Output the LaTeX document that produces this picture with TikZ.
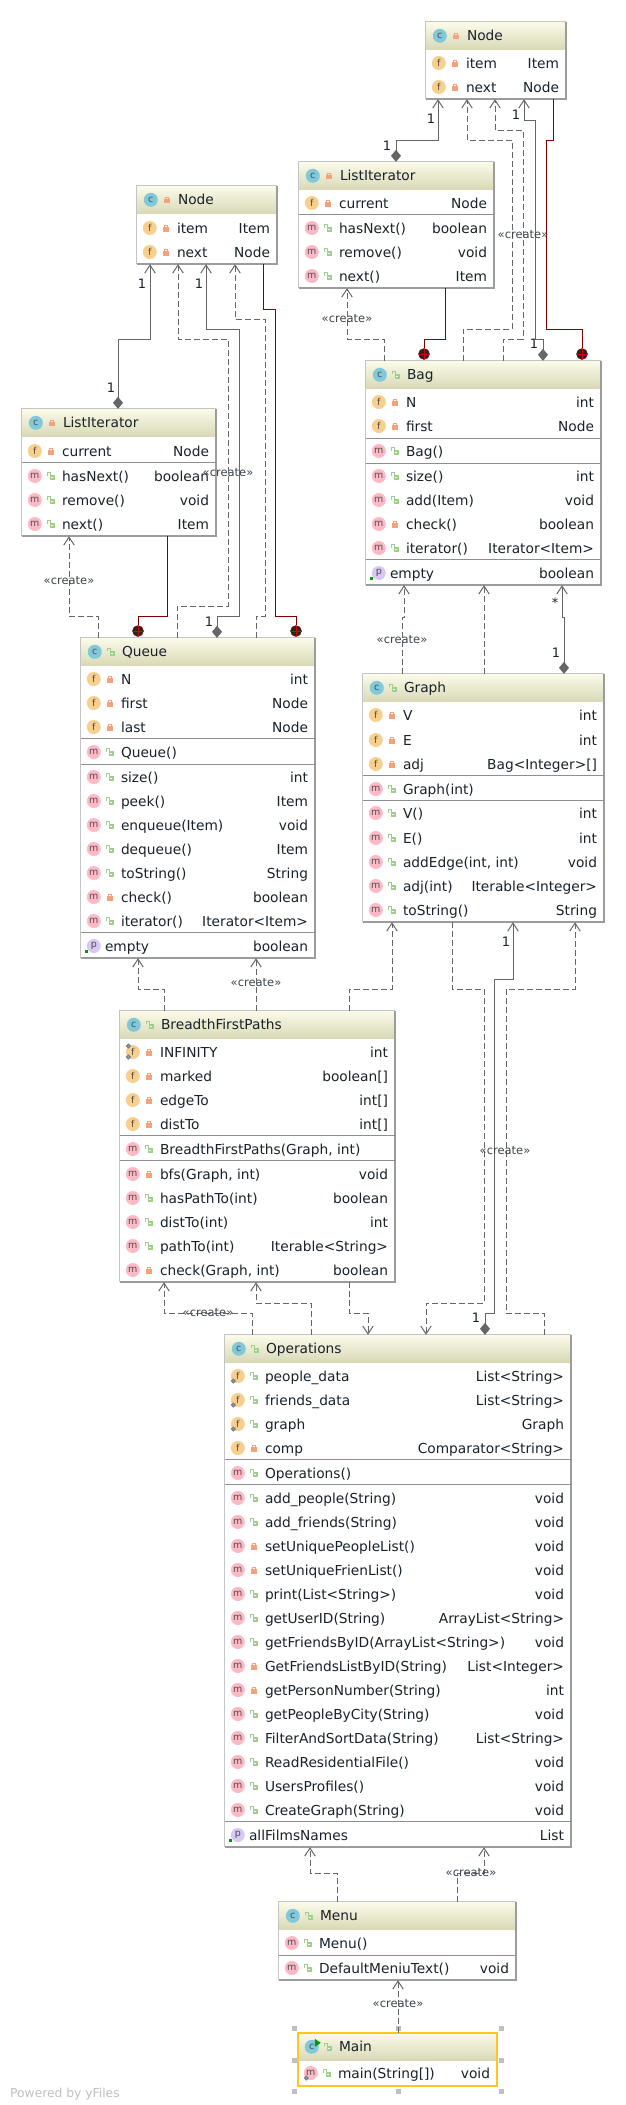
\documentclass[tikz,border=0pt]{standalone}
\usepackage{xcolor}
\usepackage{fontspec}
\setmainfont{DejaVu Sans}
\usetikzlibrary{arrows.meta,calc}

\definecolor{headtop}{HTML}{FBFBEA}
\definecolor{headbot}{HTML}{D8D8B6}
\definecolor{boxline}{HTML}{C4C4C4}
\definecolor{boxshade}{HTML}{9C9C9C}
\definecolor{rowline}{HTML}{8E8E8E}
\definecolor{inktext}{HTML}{18222A}
\definecolor{linegray}{HTML}{666666}
\definecolor{ownerred}{HTML}{800000}
\definecolor{fcol}{HTML}{F9CF8E}
\definecolor{mcol}{HTML}{FFB8C6}
\definecolor{ccol}{HTML}{80C8DA}
\definecolor{pcol}{HTML}{D8C8F6}
\definecolor{lockred}{HTML}{F4A17C}
\definecolor{lockgreen}{HTML}{9ED08C}
\definecolor{gearcol}{HTML}{74828F}
\definecolor{selectline}{HTML}{FFC71E}

\tikzset{
  classbody/.style={rectangle, fill=white, inner sep=0pt},
  rowtext/.style={inner sep=0pt, text=inktext, font=\fontsize{13.75}{16}\selectfont},
  iconbadge/.style={circle, inner sep=0pt, minimum size=14pt, text=black!70, font=\fontsize{9.5}{10}\selectfont},
  createlabel/.style={inner sep=0pt, text=inktext!85, font=\fontsize{11.5}{13}\selectfont},
  multlabel/.style={inner sep=0pt, text=inktext, font=\fontsize{13}{15}\selectfont},
  dashline/.style={draw=linegray, line width=1pt, dash pattern=on 6pt off 3pt, -{Straight Barb[length=8pt,width=10.5pt]}},
  assocline/.style={draw=linegray, line width=1pt, {Diamond[length=12pt,width=10pt]}-{Straight Barb[length=8pt,width=10.5pt]}},
  ownerline/.style={draw=ownerred, line width=1pt},
  ownerdot/.style={circle, draw=ownerred, fill=black!85, inner sep=0pt, minimum size=11pt,
    path picture={\draw[red!85!black, line width=1pt] (path picture bounding box.north) -- (path picture bounding box.south)
      (path picture bounding box.west) -- (path picture bounding box.east);}},
  handlemark/.style={rectangle, fill=black!25, inner sep=0pt, minimum size=5pt},
  lockshut/.pic={
    \fill[lockred] (-3,-0.6) rectangle (3,3.6);
    \draw[lockred, line width=1.1pt] (-1.7,0) -- (-1.7,-2.6) -- (1.7,-2.6) -- (1.7,0);
  },
  lockopen/.pic={
    \draw[lockgreen, line width=1.1pt] (-3.5,-0.5) -- (-3.5,-3.6) -- (-0.6,-3.6) -- (-0.6,0);
    \fill[lockgreen] (-1.2,-0.6) rectangle (4,3.8);
    \fill[white] (0.2,0.8) rectangle (2.6,2.2);
  },
}

% box with its title band: name, left, top, right, bottom
\newcommand{\classbox}[5]{
  \node (#1) [classbody, minimum width=#4pt-#2pt, minimum height=#5pt-#3pt] at ({(#2+#4)/2},{(#3+#5)/2}) {};
  \fill[top color=headtop, bottom color=headbot] (#1.north west) rectangle ($(#1.north east)+(0,28)$);
  \draw[boxline, line width=1pt] (#1.south west) -- (#1.north west) -- (#1.north east);
  \draw[boxshade, line width=1.5pt] (#1.north east) -- (#1.south east) -- (#1.south west);
}
% title: box, text, lock
\newcommand{\classhead}[3]{
  \node (#1icon) [iconbadge, fill=ccol] at ($(#1.north west)+(14,14)$) {c};
  \pic at ($(#1.north west)+(30,14)$) {#3};
  \node (#1title) [rowtext, anchor=base west] at ($(#1.north west)+(41,19)$) {#2};
}
% row: box, y, letter, lock, text, type
\newcommand{\member}[6]{
  \node (#1icon#2) [iconbadge, fill=#3col] at ($(#1.west |- 0,#2)+(13,0)$) {#3};
  \pic at ($(#1.west |- 0,#2)+(29,0)$) {#4};
  \node (#1name#2) [rowtext, anchor=base west] at ($(#1.west |- 0,#2+5)+(40,0)$) {#5};
  \node (#1type#2) [rowtext, anchor=base east] at ($(#1.east |- 0,#2+5)+(-7,0)$) {#6};
}
% property row: box, y, text, type
\newcommand{\propitem}[4]{
  \node (#1icon#2) [iconbadge, fill=pcol] at ($(#1.west |- 0,#2)+(13,0)$) {p};
  \fill[green!60!black] ($(#1.west |- 0,#2)+(4,4)$) rectangle ($(#1.west |- 0,#2)+(7,7)$);
  \node (#1name#2) [rowtext, anchor=base west] at ($(#1.west |- 0,#2+5)+(24,0)$) {#3};
  \node (#1type#2) [rowtext, anchor=base east] at ($(#1.east |- 0,#2+5)+(-7,0)$) {#4};
}
\newcommand{\rowrule}[2]{
  \draw[rowline, line width=1pt] (#1.west |- 0,#2) -- (#1.east |- 0,#2);
}
\newcommand{\staticmark}[2]{
  \draw[gearcol, line width=1.3pt, fill=gearcol!50] ($(#1.west |- 0,#2)+(8.5,5)$) circle (1.8pt);
}

\begin{document}
\begin{tikzpicture}[x=1pt, y=-1pt]
  \useasboundingbox (0,0) rectangle (625,2105);

  % Node (right)
  \classbox{nodeTop}{426}{22}{566}{99}
  \classhead{nodeTop}{Node}{lockshut}
  \member{nodeTop}{63}{f}{lockshut}{item}{Item}
  \member{nodeTop}{87}{f}{lockshut}{next}{Node}

  % ListIterator (right)
  \classbox{iterTop}{299}{162}{494}{288}
  \classhead{iterTop}{ListIterator}{lockshut}
  \member{iterTop}{203}{f}{lockshut}{current}{Node}
  \rowrule{iterTop}{214}
  \member{iterTop}{228}{m}{lockopen}{hasNext()}{boolean}
  \member{iterTop}{252}{m}{lockopen}{remove()}{void}
  \member{iterTop}{276}{m}{lockopen}{next()}{Item}

  % Bag
  \classbox{bag}{366}{361}{601}{585}
  \classhead{bag}{Bag}{lockopen}
  \member{bag}{402}{f}{lockshut}{N}{int}
  \member{bag}{426}{f}{lockshut}{first}{Node}
  \rowrule{bag}{438}
  \member{bag}{451}{m}{lockopen}{Bag()}{}
  \rowrule{bag}{463}
  \member{bag}{476}{m}{lockopen}{size()}{int}
  \member{bag}{500}{m}{lockopen}{add(Item)}{void}
  \member{bag}{524}{m}{lockshut}{check()}{boolean}
  \member{bag}{548}{m}{lockopen}{iterator()}{Iterator<Item>}
  \rowrule{bag}{559}
  \propitem{bag}{573}{empty}{boolean}

  % Node (left)
  \classbox{nodeLeft}{137}{186}{277}{264}
  \classhead{nodeLeft}{Node}{lockshut}
  \member{nodeLeft}{228}{f}{lockshut}{item}{Item}
  \member{nodeLeft}{252}{f}{lockshut}{next}{Node}

  % ListIterator (left)
  \classbox{iterLeft}{22}{409}{216}{536}
  \classhead{iterLeft}{ListIterator}{lockshut}
  \member{iterLeft}{451}{f}{lockshut}{current}{Node}
  \rowrule{iterLeft}{462}
  \member{iterLeft}{476}{m}{lockopen}{hasNext()}{boolean}
  \member{iterLeft}{500}{m}{lockopen}{remove()}{void}
  \member{iterLeft}{524}{m}{lockopen}{next()}{Item}

  % Queue
  \classbox{queue}{81}{638}{315}{958}
  \classhead{queue}{Queue}{lockopen}
  \member{queue}{679}{f}{lockshut}{N}{int}
  \member{queue}{703}{f}{lockshut}{first}{Node}
  \member{queue}{727}{f}{lockshut}{last}{Node}
  \rowrule{queue}{738}
  \member{queue}{752}{m}{lockopen}{Queue()}{}
  \rowrule{queue}{764}
  \member{queue}{777}{m}{lockopen}{size()}{int}
  \member{queue}{801}{m}{lockopen}{peek()}{Item}
  \member{queue}{825}{m}{lockopen}{enqueue(Item)}{void}
  \member{queue}{849}{m}{lockopen}{dequeue()}{Item}
  \member{queue}{873}{m}{lockopen}{toString()}{String}
  \member{queue}{897}{m}{lockshut}{check()}{boolean}
  \member{queue}{921}{m}{lockopen}{iterator()}{Iterator<Item>}
  \rowrule{queue}{932}
  \propitem{queue}{946}{empty}{boolean}

  % Graph
  \classbox{graph}{363}{674}{604}{922}
  \classhead{graph}{Graph}{lockopen}
  \member{graph}{715}{f}{lockshut}{V}{int}
  \member{graph}{740}{f}{lockshut}{E}{int}
  \member{graph}{764}{f}{lockshut}{adj}{Bag<Integer>[]}
  \rowrule{graph}{775}
  \member{graph}{789}{m}{lockopen}{Graph(int)}{}
  \rowrule{graph}{800}
  \member{graph}{813}{m}{lockopen}{V()}{int}
  \member{graph}{838}{m}{lockopen}{E()}{int}
  \member{graph}{862}{m}{lockopen}{addEdge(int, int)}{void}
  \member{graph}{886}{m}{lockopen}{adj(int)}{Iterable<Integer>}
  \member{graph}{910}{m}{lockopen}{toString()}{String}

  % BreadthFirstPaths
  \classbox{bfs}{120}{1011}{395}{1282}
  \classhead{bfs}{BreadthFirstPaths}{lockopen}
  \member{bfs}{1052}{f}{lockshut}{INFINITY}{int}
  \staticmark{bfs}{1052}
  \staticmark{bfs}{1041}
  \member{bfs}{1076}{f}{lockshut}{marked}{boolean[]}
  \member{bfs}{1100}{f}{lockshut}{edgeTo}{int[]}
  \member{bfs}{1124}{f}{lockshut}{distTo}{int[]}
  \rowrule{bfs}{1135}
  \member{bfs}{1149}{m}{lockopen}{BreadthFirstPaths(Graph, int)}{}
  \rowrule{bfs}{1160}
  \member{bfs}{1174}{m}{lockshut}{bfs(Graph, int)}{void}
  \member{bfs}{1198}{m}{lockopen}{hasPathTo(int)}{boolean}
  \member{bfs}{1222}{m}{lockopen}{distTo(int)}{int}
  \member{bfs}{1246}{m}{lockopen}{pathTo(int)}{Iterable<String>}
  \member{bfs}{1270}{m}{lockshut}{check(Graph, int)}{boolean}

  % Operations
  \classbox{ops}{225}{1335}{571}{1847}
  \classhead{ops}{Operations}{lockopen}
  \member{ops}{1376}{f}{lockopen}{people\_data}{List<String>}
  \staticmark{ops}{1376}
  \member{ops}{1400}{f}{lockopen}{friends\_data}{List<String>}
  \staticmark{ops}{1400}
  \member{ops}{1424}{f}{lockopen}{graph}{Graph}
  \staticmark{ops}{1424}
  \member{ops}{1448}{f}{lockshut}{comp}{Comparator<String>}
  \rowrule{ops}{1459}
  \member{ops}{1473}{m}{lockopen}{Operations()}{}
  \rowrule{ops}{1484}
  \member{ops}{1498}{m}{lockopen}{add\_people(String)}{void}
  \member{ops}{1522}{m}{lockopen}{add\_friends(String)}{void}
  \member{ops}{1546}{m}{lockshut}{setUniquePeopleList()}{void}
  \member{ops}{1570}{m}{lockshut}{setUniqueFrienList()}{void}
  \member{ops}{1594}{m}{lockopen}{print(List<String>)}{void}
  \member{ops}{1618}{m}{lockopen}{getUserID(String)}{ArrayList<String>}
  \member{ops}{1642}{m}{lockopen}{getFriendsByID(ArrayList<String>)}{void}
  \member{ops}{1666}{m}{lockshut}{GetFriendsListByID(String)}{List<Integer>}
  \member{ops}{1690}{m}{lockshut}{getPersonNumber(String)}{int}
  \member{ops}{1714}{m}{lockopen}{getPeopleByCity(String)}{void}
  \member{ops}{1738}{m}{lockopen}{FilterAndSortData(String)}{List<String>}
  \member{ops}{1762}{m}{lockopen}{ReadResidentialFile()}{void}
  \member{ops}{1786}{m}{lockopen}{UsersProfiles()}{void}
  \member{ops}{1810}{m}{lockopen}{CreateGraph(String)}{void}
  \rowrule{ops}{1821}
  \propitem{ops}{1835}{allFilmsNames}{List}

  % Menu
  \classbox{menu}{279}{1902}{516}{1980}
  \classhead{menu}{Menu}{lockopen}
  \member{menu}{1943}{m}{lockopen}{Menu()}{}
  \rowrule{menu}{1955}
  \member{menu}{1968}{m}{lockopen}{DefaultMeniuText()}{void}

  % Main
  \classbox{mainbox}{298}{2033}{497}{2086}
  \classhead{mainbox}{Main}{lockopen}
  \member{mainbox}{2073}{m}{lockopen}{main(String[])}{void}
  \staticmark{mainbox}{2073}
  \fill[green!60!black] ($(mainboxicon.center)+(3,-8)$) -- ($(mainboxicon.center)+(9,-4)$) -- ($(mainboxicon.center)+(3,0)$) -- cycle;
  \draw[selectline, line width=1.5pt] (mainbox.south west) rectangle (mainbox.north east);

  % Selection handles
  \node (handleA) [handlemark] at (294,2028) {};
  \node (handleB) [handlemark] at (398,2028) {};
  \node (handleC) [handlemark] at (501,2028) {};
  \node (handleD) [handlemark] at (294,2060) {};
  \node (handleE) [handlemark] at (501,2060) {};
  \node (handleF) [handlemark] at (294,2091) {};
  \node (handleG) [handlemark] at (398,2091) {};
  \node (handleH) [handlemark] at (501,2091) {};

  % Inner class marks
  \node (bagdotA) [ownerdot] at (424,354) {};
  \node (bagdotB) [ownerdot] at (582,354) {};
  \node (queuedotA) [ownerdot] at (138,631) {};
  \node (queuedotB) [ownerdot] at (296,631) {};
  \draw[ownerline] (iterTop.south -| 445,0) -- (445,339) -- (424,339) -- (bagdotA);
  \draw[ownerline] (nodeTop.south -| 553,0) -- (553,140) -- (546,140) -- (546,329) -- (582,329) -- (bagdotB);
  \draw[ownerline] (iterLeft.south -| 167,0) -- (167,616) -- (138,616) -- (queuedotA);
  \draw[ownerline] (nodeLeft.south -| 263,0) -- (263,309) -- (275,309) -- (275,616) -- (296,616) -- (queuedotB);

  % Associations
  \draw[assocline] (iterTop.north -| 396,0) -- (396,140) -- (438,140) -- (nodeTop.south -| 438,0);
  \draw[assocline] (bag.north -| 543,0) -- (543,339) -- (535,339) -- (535,120) -- (524,120) -- (nodeTop.south -| 524,0);
  \draw[assocline] (iterLeft.north -| 118,0) -- (118,339) -- (150,339) -- (nodeLeft.south -| 150,0);
  \draw[assocline] (queue.north -| 217,0) -- (217,616) -- (239,616) -- (239,329) -- (206,329) -- (nodeLeft.south -| 206,0);
  \draw[assocline] (graph.north -| 564,0) -- (564,617) -- (562,617) -- (bag.south -| 562,0);
  \draw[assocline] (ops.north -| 485,0) -- (485,1313) -- (494,1313) -- (494,979) -- (513,979) -- (graph.south -| 513,0);

  % Dependencies
  \draw[dashline] (bag.north -| 384,0) -- (384,339) -- (347,339) -- (iterTop.south -| 347,0);
  \draw[dashline] (bag.north -| 463,0) -- (463,329) -- (512,329) -- (512,140) -- (467,140) -- (nodeTop.south -| 467,0);
  \draw[dashline] (bag.north -| 503,0) -- (503,339) -- (523,339) -- (523,130) -- (495,130) -- (nodeTop.south -| 495,0);
  \draw[dashline] (queue.north -| 98,0) -- (98,616) -- (69,616) -- (iterLeft.south -| 69,0);
  \draw[dashline] (queue.north -| 177,0) -- (177,606) -- (228,606) -- (228,339) -- (178,339) -- (nodeLeft.south -| 178,0);
  \draw[dashline] (queue.north -| 256,0) -- (256,616) -- (265,616) -- (265,319) -- (235,319) -- (nodeLeft.south -| 235,0);
  \draw[dashline] (graph.north -| 402,0) -- (402,617) -- (404,617) -- (bag.south -| 404,0);
  \draw[dashline] (graph.north -| 484,0) -- (bag.south -| 484,0);
  \draw[dashline] (bfs.north -| 164,0) -- (164,989) -- (138,989) -- (queue.south -| 138,0);
  \draw[dashline] (bfs.north -| 256,0) -- (queue.south -| 256,0);
  \draw[dashline] (bfs.north -| 349,0) -- (349,989) -- (392,989) -- (graph.south -| 392,0);
  \draw[dashline] (ops.north -| 252,0) -- (252,1313) -- (164,1313) -- (bfs.south -| 164,0);
  \draw[dashline] (ops.north -| 311,0) -- (311,1303) -- (256,1303) -- (bfs.south -| 256,0);
  \draw[dashline] (bfs.south -| 349,0) -- (349,1313) -- (368,1313) -- (ops.north -| 368,0);
  \draw[dashline] (graph.south -| 452,0) -- (452,989) -- (484,989) -- (484,1303) -- (426,1303) -- (ops.north -| 426,0);
  \draw[dashline] (ops.north -| 544,0) -- (544,1313) -- (506,1313) -- (506,989) -- (575,989) -- (graph.south -| 575,0);
  \draw[dashline] (menu.north -| 337,0) -- (337,1873) -- (310,1873) -- (ops.south -| 310,0);
  \draw[dashline] (menu.north -| 457,0) -- (457,1873) -- (484,1873) -- (ops.south -| 484,0);
  \draw[dashline] (mainbox.north -| 398,0) -- (menu.south -| 398,0);

  % Labels
  \node (createA) [createlabel] at (523,235) {«create»};
  \node (createB) [createlabel] at (347,319) {«create»};
  \node (createC) [createlabel] at (69,581) {«create»};
  \node (createD) [createlabel] at (228,473) {«create»};
  \node (createE) [createlabel] at (402,640) {«create»};
  \node (createF) [createlabel] at (256,983) {«create»};
  \node (createG) [createlabel] at (505,1151) {«create»};
  \node (createH) [createlabel] at (208,1313) {«create»};
  \node (createI) [createlabel] at (471,1873) {«create»};
  \node (createJ) [createlabel] at (398,2004) {«create»};
  \node (multA) [multlabel] at (431,119) {1};
  \node (multB) [multlabel] at (387,146) {1};
  \node (multC) [multlabel] at (516,115) {1};
  \node (multD) [multlabel] at (534,344) {1};
  \node (multE) [multlabel] at (142,284) {1};
  \node (multF) [multlabel] at (111,388) {1};
  \node (multG) [multlabel] at (199,284) {1};
  \node (multH) [multlabel] at (209,622) {1};
  \node (multI) [multlabel] at (555,603) {*};
  \node (multJ) [multlabel] at (556,653) {1};
  \node (multK) [multlabel] at (506,942) {1};
  \node (multL) [multlabel] at (476,1318) {1};

  % Footer
  \node (poweredby) [anchor=base west, inner sep=0pt, text=black!25, font=\fontsize{12.3}{14}\selectfont] at (10,2097) {Powered by yFiles};
\end{tikzpicture}
\end{document}
